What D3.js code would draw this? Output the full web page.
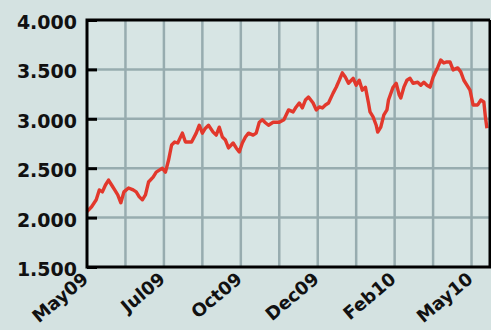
<!doctype html>
<html lang="en">
<head>
<meta charset="utf-8">
<title>Index chart</title>
<script src="https://cdn.jsdelivr.net/npm/d3@7"></script>
<style>
	html, body { margin: 0; padding: 0; background: #d4e2e1; }
	#chart text { font-family: "DejaVu Sans", sans-serif; font-weight: bold; fill: #111; }
</style>
</head>
<body>
<div id="chart"></div>
<script>
/* data: trading day index since start of May 2009, index level */
var days = [0, 3, 6, 8, 10, 12, 14, 16, 18, 20, 22, 24, 27, 30, 32, 34, 36, 38, 40, 43,
	45, 47, 49, 51, 53, 55, 57, 59, 62, 64, 68, 71, 73, 75, 77, 79, 82, 84, 86, 88,
	90, 92, 95, 97, 99, 101, 103, 105, 108, 110, 112, 114, 116, 118, 121, 125, 128, 131, 134, 136,
	138, 140, 142, 144, 147, 149, 151, 153, 155, 157, 160, 162, 164, 166, 168, 170, 173, 175, 177, 179,
	181, 183, 184, 186, 188, 189, 191, 193, 195, 196, 199, 201, 203, 204, 206, 208, 210, 212, 215, 217,
	219, 221, 223, 225, 228, 230, 232, 234, 236, 238, 241, 243, 245, 247, 249, 251, 254, 256, 258, 259, 260];
var values = [2060, 2110, 2180, 2280, 2260, 2330, 2380, 2330, 2280, 2230, 2150, 2260, 2300, 2280, 2260, 2210, 2180, 2230, 2360, 2410,
	2460, 2480, 2500, 2460, 2580, 2735, 2765, 2755, 2855, 2765, 2765, 2855, 2935, 2855, 2905, 2935, 2865, 2835, 2915, 2815,
	2785, 2705, 2755, 2705, 2665, 2755, 2815, 2855, 2835, 2855, 2965, 2990, 2960, 2935, 2965, 2965, 2990, 3090, 3070, 3120,
	3160, 3110, 3190, 3220, 3160, 3090, 3120, 3110, 3140, 3160, 3260, 3320, 3390, 3465, 3420, 3360, 3410, 3340, 3390, 3290,
	3320, 3160, 3070, 3020, 2935, 2865, 2915, 3040, 3090, 3190, 3320, 3360, 3240, 3210, 3320, 3390, 3410, 3360, 3370, 3340,
	3370, 3340, 3320, 3420, 3520, 3595, 3565, 3575, 3575, 3495, 3515, 3475, 3390, 3340, 3290, 3140, 3140, 3190, 3170, 3020, 2905];

var gridDays = [0, 25, 50, 75, 100, 125, 150, 175, 200, 225, 250];
var labelDays = [0, 50, 100, 150, 200, 250];
var labelNames = ['May09', 'Jul09', 'Oct09', 'Dec09', 'Feb10', 'May10'];
var yTicks = [1500, 2000, 2500, 3000, 3500, 4000];
var yNames = ['1.500', '2.000', '2.500', '3.000', '3.500', '4.000'];

/* view */
var size = { width: 491, height: 330 };
var margin = { top: 20, right: 1, bottom: 63, left: 87 };

var svg = d3.select('#chart').append('svg')
	.attr('width', size.width)
	.attr('height', size.height);

var x = d3.scaleLinear().domain([0, 262]).range([margin.left, size.width - margin.right]);
var y = d3.scaleLinear().domain([1500, 4000]).range([size.height - margin.bottom, margin.top]);

svg.append('rect')
	.attr('x', x(0)).attr('y', y(4000))
	.attr('width', x(262) - x(0)).attr('height', y(1500) - y(4000))
	.style('fill', '#d7e5e4');

// grid
svg.append('g').selectAll('line.v')
	.data(gridDays.slice(1))
	.enter().append('line')
	.attr('x1', function(d){ return x(d); }).attr('x2', function(d){ return x(d); })
	.attr('y1', y(4000)).attr('y2', y(1500))
	.style('stroke', '#97acaf').style('stroke-width', 2.5);

svg.append('g').selectAll('line.h')
	.data(yTicks.slice(1, -1))
	.enter().append('line')
	.attr('x1', x(0)).attr('x2', x(262))
	.attr('y1', function(d){ return y(d); }).attr('y2', function(d){ return y(d); })
	.style('stroke', '#97acaf').style('stroke-width', 2.5);

// line
var line = d3.line()
	.x(function(d, i){ return x(days[i]); })
	.y(function(d){ return y(d); });

svg.append('path')
	.datum(values)
	.attr('d', line)
	.style('fill', 'none')
	.style('stroke', '#e2382c')
	.style('stroke-width', 3.4)
	.style('stroke-linejoin', 'round');

// frame
svg.append('path')
	.attr('d', 'M' + x(262) + ',' + y(4000) + 'H' + x(0) + 'V' + y(1500) + 'H' + x(262) + 'V' + y(4000))
	.style('fill', 'none').style('stroke', '#000').style('stroke-width', 3);

// y axis
var yAxis = svg.append('g')
	.attr('transform', 'translate(' + x(0) + ',0)')
	.call(d3.axisLeft(y)
		.tickValues(yTicks)
		.tickFormat(function(d, i){ return yNames[i]; })
		.tickSize(-10)
		.tickPadding(10));
yAxis.select('.domain').remove();
yAxis.selectAll('line').style('stroke', '#000').style('stroke-width', 3);
yAxis.selectAll('text').style('font-size', '19px').attr('dy', '0.45em');

// x axis
var xAxis = svg.append('g')
	.attr('transform', 'translate(0,' + y(1500) + ')')
	.call(d3.axisBottom(x)
		.tickValues(labelDays)
		.tickFormat(function(d, i){ return labelNames[i]; })
		.tickSize(0));
xAxis.select('.domain').remove();
xAxis.selectAll('text')
	.style('font-size', '18px')
	.attr('text-anchor', 'end')
	.attr('y', 0).attr('dy', 0)
	.attr('transform', 'translate(2,14) rotate(-40)');
</script>
</body>
</html>
